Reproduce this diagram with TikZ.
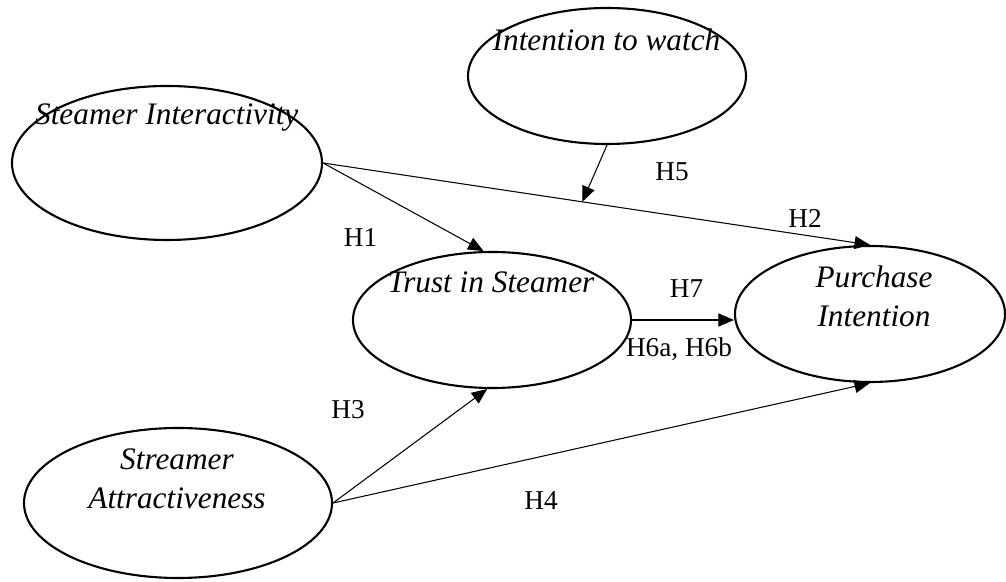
\documentclass[tikz,border=0pt]{standalone}
\usepackage{fontspec}
\setmainfont{Liberation Serif}
\usetikzlibrary{shapes.geometric,arrows.meta,calc}
\begin{document}
\begin{tikzpicture}[line join=round, line cap=round, >={Triangle[length=3.1mm,width=2.6mm]},
        bien/.style={draw, ellipse, line width=1.2pt, inner sep=0pt},
        ten/.style={font=\fontsize{17.8}{22.2}\selectfont\itshape, align=center, inner sep=0pt},
        gt/.style={font=\fontsize{15.5}{18}\selectfont, inner sep=0pt},
        mt/.style={->, line width=0.6pt}]
    \useasboundingbox (0,0) rectangle (20.12,11.64);
    % cac bien
    \node[bien, minimum width=5.56cm, minimum height=2.72cm] (watch) at (12.14,10.12) {};
    \node[bien, minimum width=6.2cm, minimum height=3.08cm] (inter) at (3.34,8.38) {};
    \node[bien, minimum width=5.56cm, minimum height=2.72cm] (trust) at (9.84,5.24) {};
    \node[bien, minimum width=5.4cm, minimum height=2.72cm] (purchase) at (17.40,5.36) {};
    \node[bien, minimum width=6.16cm, minimum height=3.0cm] (attract) at (3.56,1.58) {};
    \node[ten] (watchT) at (12.13,10.84) {Intention to watch};
    \node[ten] (interT) at (3.335,9.28) {Steamer Interactivity};
    \node[ten] (trustT) at (9.82,6.0) {Trust in Steamer};
    \node[ten] (purchaseT) at (17.48,5.72) {Purchase\\Intention};
    \node[ten] (attractT) at (3.54,2.07) {Streamer\\Attractiveness};
    % cac gia thuyet
    \coordinate (moderate) at ($(inter.east)!0.474!(purchase.north)$);
    \draw[mt] (inter.east) -- (trust.97);
    \draw[mt] (inter.east) -- (purchase.north);
    \draw[mt] (watch.south) -- (moderate);
    \draw[mt] (trust.east) -- (trust.east -| purchase.west);
    \draw[mt] (attract.east) -- (trust.266);
    \draw[mt] (attract.east) -- (purchase.south);
    \node[gt] (h1) at (7.21,6.89) {H1};
    \node[gt] (h2) at (16.10,7.28) {H2};
    \node[gt] (h3) at (6.96,3.44) {H3};
    \node[gt] (h4) at (10.82,1.62) {H4};
    \node[gt] (h5) at (13.44,8.21) {H5};
    \node[gt] (h7) at (13.73,5.86) {H7};
    \node[gt] (h6) at (13.58,4.65) {H6a, H6b};
\end{tikzpicture}
\end{document}
